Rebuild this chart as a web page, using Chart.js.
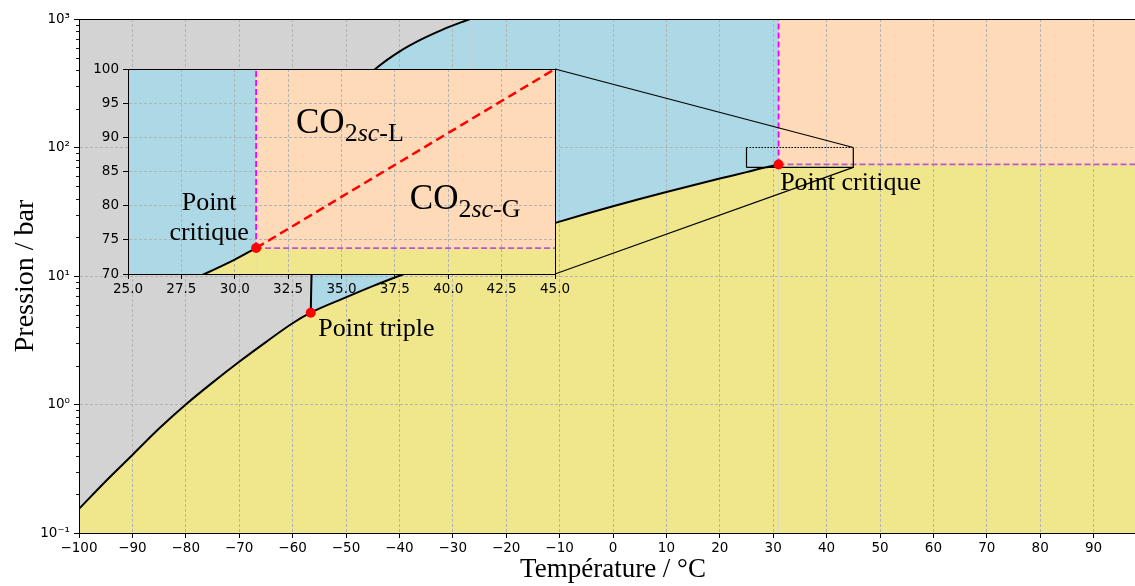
<!DOCTYPE html>
<html><head><meta charset="utf-8">
<script src="https://cdn.jsdelivr.net/npm/chart.js@4.4.1/dist/chart.umd.min.js"></script>
<style>
html,body{margin:0;padding:0;overflow:hidden;background:#fff;}
#wrap{position:relative;width:1180px;height:586px;}
canvas{position:absolute;left:0;top:0;}
</style></head><body>
<div id="wrap"><canvas id="main" width="1180" height="586"></canvas><canvas id="inset" width="1180" height="586"></canvas></div>
<script>
// ---------------- data ----------------
const sublimationT = [-100, -95, -90, -85, -80, -75, -70, -65, -60, -56.6];
const sublimationP = [0.154, 0.253, 0.405, 0.65, 1.0, 1.48, 2.15, 3.06, 4.29, 5.18];
const vaporT = [-56.6, -50, -45, -40, -35, -30, -25, -20, -15, -10, -5, 0, 5, 10, 15, 20, 25, 28, 29, 30, 31.0];
const vaporP = [5.18, 6.82, 8.34, 10.05, 12.02, 14.28, 16.82, 19.70, 22.90, 26.49, 30.47, 34.85, 39.69, 45.02, 50.87, 57.29, 64.34, 69.2, 70.6, 72.1, 73.8];
const fusionT = [-56.6, -56.5, -56.3, -56, -55.5, -55, -54, -52, -50, -47, -44, -40, -36, -32, -28, -26.7];
const fusionP = [5.18, 8.51, 15.17, 25.16, 41.8, 58.5, 91.8, 158.4, 225, 324.9, 424.8, 558, 691, 824, 957, 1000.8];
const triplePoint = [-56.6, 5.18];
const criticalPoint = [31.0, 73.8];

const mainXRange = [-100, 100];
const mainYRange = [0.1, 1000];
const insetXRange = [25, 45];
const insetYRange = [70, 100];

const mainXTicks = [-100, -90, -80, -70, -60, -50, -40, -30, -20, -10, 0, 10, 20, 30, 40, 50, 60, 70, 80, 90, 100];
const mainYTicks = [0.1, 1, 10, 100, 1000];
const mainYTickLabels = ['10\u207B\u00B9', '10\u2070', '10\u00B9', '10\u00B2', '10\u00B3'];
const insetXTicks = [25, 27.5, 30, 32.5, 35, 37.5, 40, 42.5, 45];
const insetYTicks = [70, 75, 80, 85, 90, 95, 100];

const axisTitles = ['Température / °C', 'Pression / bar'];
const mainNotes = [['Point triple', -55.2, 3.41], ['Point critique', 31.3, 46.7]];
const insetNotes = [['Point', 28.8, 79.37], ['critique', 28.8, 74.98]];
const phaseLabels = [['L', 32.87, 90.63], ['G', 38.2, 79.51]];

// ---------------- style ----------------
const GREY = '#d3d3d3', BLUE = '#add8e6', KHAKI = '#f0e68c', PEACH = '#ffdab9';
const GRID = '#b3b3b3';
const SERIF = "'Liberation Serif', serif";
Chart.defaults.font.family = "'DejaVu Sans', sans-serif";
Chart.defaults.font.size = 13.5;
Chart.defaults.color = '#000';

const pts = (xs, ys) => xs.map((x, i) => ({x: x, y: ys[i]}));
const [Tt, Pt] = triplePoint;
const [Tc, Pc] = criticalPoint;
const sublimPts = pts(sublimationT, sublimationP);
const vaporPts = pts(vaporT, vaporP);
const fusionPts = pts(fusionT, fusionP);
const gasCurvePts = [...sublimPts, ...vaporPts.slice(1)];

function fillDs(data, fill, color, order, smooth) {
  const d = {data: data, fill: fill, backgroundColor: color, borderColor: 'rgba(0,0,0,0)', borderWidth: 0, pointRadius: 0, order: order, tension: 0};
  if (smooth) d.cubicInterpolationMode = 'monotone';
  return d;
}
function lineDs(data, color, width, dash, order, smooth) {
  const d = {data: data, fill: false, borderColor: color, borderWidth: width, borderDash: dash || [], pointRadius: 0, order: order, tension: 0};
  if (smooth) d.cubicInterpolationMode = 'monotone';
  return d;
}
function gridOpts() {
  return {color: GRID, lineWidth: 1, tickLength: 5, tickColor: '#000', tickWidth: 1, tickBorderDash: []};
}
function borderOpts() {
  return {display: true, color: '#000', width: 1, dash: [3, 2]};
}
const fmtMinus = v => v < 0 ? '\u2212' + Math.abs(v) : String(v);

// ---------------- inset chart ----------------
const [ixMin, ixMax] = insetXRange;
const [iyMin, iyMax] = insetYRange;

const insetPlugin = {
  id: 'insetDecor',
  afterDatasetsDraw(chart) {
    const ctx = chart.ctx, a = chart.chartArea, sx = chart.scales.x, sy = chart.scales.y;
    ctx.save();
    ctx.fillStyle = '#000';
    ctx.textBaseline = 'alphabetic';
    ctx.font = '26px ' + SERIF;
    ctx.textAlign = 'center';
    insetNotes.forEach(n => ctx.fillText(n[0], sx.getPixelForValue(n[1]), sy.getPixelForValue(n[2])));
    ctx.textAlign = 'left';
    phaseLabels.forEach(l => {
      let x = sx.getPixelForValue(l[1]);
      const y = sy.getPixelForValue(l[2]);
      ctx.font = '35px ' + SERIF;
      ctx.fillText('CO', x, y);
      x += ctx.measureText('CO').width;
      ctx.font = '26px ' + SERIF;
      ctx.fillText('2', x, y + 8);
      x += ctx.measureText('2').width;
      ctx.font = 'italic 26px ' + SERIF;
      ctx.fillText('sc', x, y + 8);
      x += ctx.measureText('sc').width;
      ctx.font = '26px ' + SERIF;
      ctx.fillText('-' + l[0], x, y + 8);
    });
    ctx.strokeStyle = '#000';
    ctx.lineWidth = 1;
    ctx.strokeRect(Math.round(a.left) + 0.5, Math.round(a.top) + 0.5, Math.round(a.right - a.left), Math.round(a.bottom - a.top));
    ctx.restore();
  }
};

const insetChart = new Chart(document.getElementById('inset'), {
  type: 'line',
  data: {datasets: [
    fillDs(vaporPts, 'start', KHAKI, 10, true),
    fillDs([{x: Tc, y: Pc}, {x: ixMax, y: Pc}], 'start', KHAKI, 10),
    fillDs([{x: Tc, y: iyMax}, {x: ixMax, y: iyMax}], {value: Pc}, PEACH, 11),
    fillDs([{x: ixMin, y: iyMax}, {x: ixMax, y: iyMax}], 'start', BLUE, 12),
    lineDs(vaporPts, '#000', 2, [], 3, true),
    lineDs([{x: Tc, y: Pc}, {x: Tc, y: iyMax}], '#ff00ff', 1.8, [6, 3], 4),
    lineDs([{x: Tc, y: Pc}, {x: ixMax, y: Pc}], '#ba55d3', 1.8, [6, 3], 4),
    lineDs([{x: Tc, y: Pc}, {x: ixMax, y: iyMax}], '#ff0000', 2.5, [9, 5], 2),
    {data: [{x: Tc, y: Pc}], showLine: false, pointRadius: 5, pointBackgroundColor: '#ff0000', pointBorderWidth: 0, order: 0}
  ]},
  options: {
    responsive: false, animation: false, devicePixelRatio: 1,
    layout: {padding: {left: 83, top: 69, right: 625, bottom: 282}},
    plugins: {legend: {display: false}, tooltip: {enabled: false}, filler: {drawTime: 'beforeDraw'}},
    scales: {
      x: {type: 'linear', min: ixMin, max: ixMax,
        afterBuildTicks: s => { s.ticks = insetXTicks.map(v => ({value: v})); },
        afterFit: s => { s.height = 30; },
        ticks: {callback: v => v.toFixed(1), autoSkip: false, maxRotation: 0, padding: 2},
        grid: gridOpts(), border: borderOpts()},
      y: {type: 'linear', min: iyMin, max: iyMax,
        afterBuildTicks: s => { s.ticks = insetYTicks.map(v => ({value: v})); },
        afterFit: s => { s.width = 45; },
        ticks: {callback: v => String(v), autoSkip: false, padding: 4},
        grid: gridOpts(), border: borderOpts()}
    }
  },
  plugins: [insetPlugin]
});

// ---------------- main chart ----------------
const [xMin, xMax] = mainXRange;
const [yMin, yMax] = mainYRange;
const fusionEnd = fusionPts[fusionPts.length - 1];

const mainPlugin = {
  id: 'mainDecor',
  afterDatasetsDraw(chart) {
    const ctx = chart.ctx, a = chart.chartArea, sx = chart.scales.x, sy = chart.scales.y;
    ctx.save();
    // minor log ticks
    ctx.strokeStyle = '#000';
    ctx.lineWidth = 0.9;
    for (let k = 0; k < mainYTicks.length - 1; k++) {
      for (let m = 2; m <= 9; m++) {
        const y = Math.round(sy.getPixelForValue(m * mainYTicks[k])) + 0.5;
        ctx.beginPath(); ctx.moveTo(a.left - 3, y); ctx.lineTo(a.left, y); ctx.stroke();
      }
    }
    // top spine
    ctx.lineWidth = 1;
    ctx.beginPath(); ctx.moveTo(a.left, Math.round(a.top) + 0.5); ctx.lineTo(a.right, Math.round(a.top) + 0.5); ctx.stroke();
    // texts
    ctx.fillStyle = '#000';
    ctx.font = '26px ' + SERIF;
    ctx.textAlign = 'left';
    ctx.textBaseline = 'alphabetic';
    mainNotes.forEach(n => ctx.fillText(n[0], sx.getPixelForValue(n[1]), sy.getPixelForValue(n[2])));
    // inset connectors
    const ix = insetChart.scales.x, iy = insetChart.scales.y;
    ctx.lineWidth = 1.2;
    [[ixMax, iyMax], [ixMax, iyMin]].forEach(c => {
      ctx.beginPath();
      ctx.moveTo(ix.getPixelForValue(c[0]), iy.getPixelForValue(c[1]));
      ctx.lineTo(sx.getPixelForValue(c[0]), sy.getPixelForValue(c[1]));
      ctx.stroke();
    });
    ctx.restore();
  }
};

new Chart(document.getElementById('main'), {
  type: 'line',
  data: {datasets: [
    fillDs(gasCurvePts, 'start', KHAKI, 10, true),
    fillDs([{x: Tc, y: Pc}, {x: xMax, y: Pc}], 'start', KHAKI, 10),
    fillDs([{x: Tc, y: yMax}, {x: xMax, y: yMax}], {value: Pc}, PEACH, 11),
    fillDs(fusionPts, 'start', BLUE, 12, true),
    fillDs([{x: fusionEnd.x, y: yMax}, {x: Tc, y: yMax}], 'start', BLUE, 12),
    fillDs([{x: xMin, y: yMax}, {x: xMax, y: yMax}], 'start', GREY, 13),
    lineDs(gasCurvePts, '#000', 2, [], 3, true),
    lineDs(fusionPts, '#000', 2, [], 3, true),
    lineDs([{x: Tc, y: Pc}, {x: Tc, y: yMax}], '#ff00ff', 1.8, [6, 3], 4),
    lineDs([{x: Tc, y: Pc}, {x: xMax, y: Pc}], '#ba55d3', 1.8, [6, 3], 4),
    Object.assign(lineDs([{x: ixMin, y: iyMin}, {x: ixMin, y: iyMax}, {x: ixMax, y: iyMax}, {x: ixMax, y: iyMin}, {x: ixMin, y: iyMin}], '#000', 1.2, [], 2),
      {segment: {borderDash: c => c.p0DataIndex === 1 ? [1.5, 1.5] : undefined}}),
    {data: [{x: Tt, y: Pt}, {x: Tc, y: Pc}], showLine: false, pointRadius: 5, pointBackgroundColor: '#ff0000', pointBorderWidth: 0, order: 0}
  ]},
  options: {
    responsive: false, animation: false, devicePixelRatio: 1,
    layout: {padding: {left: 0, top: 19, right: 33, bottom: 0}},
    plugins: {legend: {display: false}, tooltip: {enabled: false}, filler: {drawTime: 'beforeDraw'}},
    scales: {
      x: {type: 'linear', min: xMin, max: xMax,
        afterBuildTicks: s => { s.ticks = mainXTicks.map(v => ({value: v})); },
        afterFit: s => { s.height = 53; },
        ticks: {callback: v => fmtMinus(v), autoSkip: false, maxRotation: 0, padding: 2},
        grid: gridOpts(), border: borderOpts(),
        title: {display: true, text: axisTitles[0], font: {family: SERIF, size: 27}, color: '#000', padding: {top: 0, bottom: 0}}},
      y: {type: 'logarithmic', min: yMin, max: yMax,
        afterBuildTicks: s => { s.ticks = mainYTicks.map(v => ({value: v})); },
        afterFit: s => { s.width = 79; },
        ticks: {callback: (v, i) => mainYTickLabels[i], autoSkip: false, padding: 4},
        grid: gridOpts(), border: borderOpts(),
        title: {display: true, text: axisTitles[1], font: {family: SERIF, size: 28}, color: '#000', padding: {top: 9, bottom: 0}}}
    }
  },
  plugins: [mainPlugin]
});
</script></body></html>
